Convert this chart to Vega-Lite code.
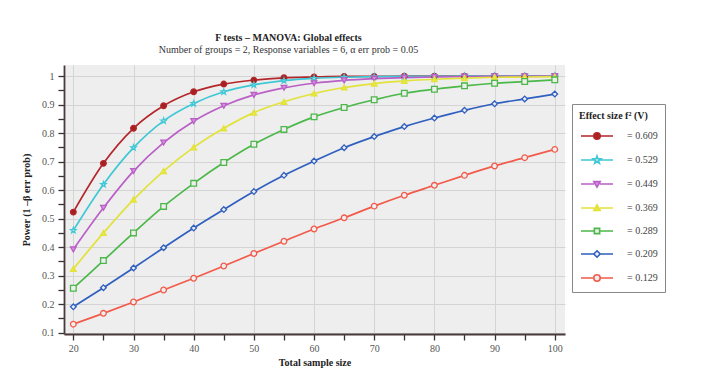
{
  "$schema": "https://vega.github.io/schema/vega-lite/v6.json",
  "width": 501,
  "height": 269,
  "autosize": {"type": "none"},
  "padding": {"left": 64, "top": 65, "right": 160, "bottom": 42},
  "background": "white",
  "config": {
    "font": "Liberation Serif",
    "view": {"fill": "#eeeeee", "stroke": null},
    "legend": {
      "padding": 7,
      "strokeColor": "#888888",
      "fillColor": "white",
      "symbolSize": 256,
      "symbolStrokeWidth": 1.6,
      "symbolOffset": 9,
      "labelOffset": 21,
      "rowPadding": 8,
      "titlePadding": 6,
      "titleFont": "Liberation Serif",
      "titleFontSize": 10,
      "titleFontWeight": "bold",
      "titleColor": "#222222",
      "labelFont": "Liberation Serif",
      "labelFontSize": 10,
      "labelColor": "#444444"
    }
  },
  "title": {
    "text": "F tests – MANOVA: Global effects",
    "subtitle": "Number of groups = 2, Response variables = 6, α err prob = 0.05",
    "font": "Liberation Serif",
    "subtitleFont": "Liberation Serif",
    "fontSize": 10,
    "subtitleFontSize": 10,
    "fontWeight": "bold",
    "color": "#222222",
    "subtitleColor": "#333333",
    "anchor": "middle",
    "dx": -26,
    "offset": 10,
    "subtitlePadding": 2
  },
  "data": {"values": [
    {"n":20,"es":"0.609","p":0.523},{"n":25,"es":"0.609","p":0.694},{"n":30,"es":"0.609","p":0.817},{"n":35,"es":"0.609","p":0.896},{"n":40,"es":"0.609","p":0.945},{"n":45,"es":"0.609","p":0.972},{"n":50,"es":"0.609","p":0.986},{"n":55,"es":"0.609","p":0.994},{"n":60,"es":"0.609","p":0.997},{"n":65,"es":"0.609","p":0.999},{"n":70,"es":"0.609","p":0.999},{"n":75,"es":"0.609","p":1.0},{"n":80,"es":"0.609","p":1.0},{"n":85,"es":"0.609","p":1.0},{"n":90,"es":"0.609","p":1.0},{"n":95,"es":"0.609","p":1.0},{"n":100,"es":"0.609","p":1.0},
    {"n":20,"es":"0.529","p":0.459},{"n":25,"es":"0.529","p":0.62},{"n":30,"es":"0.529","p":0.749},{"n":35,"es":"0.529","p":0.843},{"n":40,"es":"0.529","p":0.904},{"n":45,"es":"0.529","p":0.945},{"n":50,"es":"0.529","p":0.969},{"n":55,"es":"0.529","p":0.984},{"n":60,"es":"0.529","p":0.992},{"n":65,"es":"0.529","p":0.996},{"n":70,"es":"0.529","p":0.998},{"n":75,"es":"0.529","p":0.999},{"n":80,"es":"0.529","p":0.999},{"n":85,"es":"0.529","p":1.0},{"n":90,"es":"0.529","p":1.0},{"n":95,"es":"0.529","p":1.0},{"n":100,"es":"0.529","p":1.0},
    {"n":20,"es":"0.449","p":0.392},{"n":25,"es":"0.449","p":0.538},{"n":30,"es":"0.449","p":0.667},{"n":35,"es":"0.449","p":0.767},{"n":40,"es":"0.449","p":0.842},{"n":45,"es":"0.449","p":0.896},{"n":50,"es":"0.449","p":0.934},{"n":55,"es":"0.449","p":0.959},{"n":60,"es":"0.449","p":0.975},{"n":65,"es":"0.449","p":0.985},{"n":70,"es":"0.449","p":0.991},{"n":75,"es":"0.449","p":0.995},{"n":80,"es":"0.449","p":0.997},{"n":85,"es":"0.449","p":0.998},{"n":90,"es":"0.449","p":0.999},{"n":95,"es":"0.449","p":0.999},{"n":100,"es":"0.449","p":1.0},
    {"n":20,"es":"0.369","p":0.324},{"n":25,"es":"0.369","p":0.45},{"n":30,"es":"0.369","p":0.567},{"n":35,"es":"0.369","p":0.667},{"n":40,"es":"0.369","p":0.75},{"n":45,"es":"0.369","p":0.817},{"n":50,"es":"0.369","p":0.872},{"n":55,"es":"0.369","p":0.91},{"n":60,"es":"0.369","p":0.939},{"n":65,"es":"0.369","p":0.96},{"n":70,"es":"0.369","p":0.974},{"n":75,"es":"0.369","p":0.983},{"n":80,"es":"0.369","p":0.989},{"n":85,"es":"0.369","p":0.993},{"n":90,"es":"0.369","p":0.996},{"n":95,"es":"0.369","p":0.997},{"n":100,"es":"0.369","p":0.998},
    {"n":20,"es":"0.289","p":0.256},{"n":25,"es":"0.289","p":0.353},{"n":30,"es":"0.289","p":0.45},{"n":35,"es":"0.289","p":0.543},{"n":40,"es":"0.289","p":0.624},{"n":45,"es":"0.289","p":0.697},{"n":50,"es":"0.289","p":0.761},{"n":55,"es":"0.289","p":0.813},{"n":60,"es":"0.289","p":0.857},{"n":65,"es":"0.289","p":0.89},{"n":70,"es":"0.289","p":0.917},{"n":75,"es":"0.289","p":0.94},{"n":80,"es":"0.289","p":0.954},{"n":85,"es":"0.289","p":0.966},{"n":90,"es":"0.289","p":0.975},{"n":95,"es":"0.289","p":0.981},{"n":100,"es":"0.289","p":0.987},
    {"n":20,"es":"0.209","p":0.191},{"n":25,"es":"0.209","p":0.258},{"n":30,"es":"0.209","p":0.327},{"n":35,"es":"0.209","p":0.398},{"n":40,"es":"0.209","p":0.467},{"n":45,"es":"0.209","p":0.532},{"n":50,"es":"0.209","p":0.595},{"n":55,"es":"0.209","p":0.652},{"n":60,"es":"0.209","p":0.702},{"n":65,"es":"0.209","p":0.749},{"n":70,"es":"0.209","p":0.788},{"n":75,"es":"0.209","p":0.823},{"n":80,"es":"0.209","p":0.853},{"n":85,"es":"0.209","p":0.88},{"n":90,"es":"0.209","p":0.903},{"n":95,"es":"0.209","p":0.92},{"n":100,"es":"0.209","p":0.937},
    {"n":20,"es":"0.129","p":0.13},{"n":25,"es":"0.129","p":0.168},{"n":30,"es":"0.129","p":0.208},{"n":35,"es":"0.129","p":0.25},{"n":40,"es":"0.129","p":0.291},{"n":45,"es":"0.129","p":0.334},{"n":50,"es":"0.129","p":0.378},{"n":55,"es":"0.129","p":0.421},{"n":60,"es":"0.129","p":0.464},{"n":65,"es":"0.129","p":0.503},{"n":70,"es":"0.129","p":0.544},{"n":75,"es":"0.129","p":0.582},{"n":80,"es":"0.129","p":0.617},{"n":85,"es":"0.129","p":0.652},{"n":90,"es":"0.129","p":0.685},{"n":95,"es":"0.129","p":0.714},{"n":100,"es":"0.129","p":0.743}
  ]},
  "encoding": {
    "x": {
      "field": "n", "type": "quantitative",
      "scale": {"domain": [18.45, 101.7], "nice": false, "zero": false},
      "axis": {
        "title": "Total sample size",
        "values": [20,25,30,35,40,45,50,55,60,65,70,75,80,85,90,95,100],
        "labelExpr": "datum.value % 10 == 0 ? datum.label : ''",
        "grid": true,
        "gridColor": "#d4d4d4",
        "gridOpacity": {"condition": {"test": "datum.value % 10 != 0", "value": 0}, "value": 1},
        "domainColor": "#4a3a3a", "domainWidth": 1.8,
        "tickColor": "#3a3030", "tickWidth": 1.3, "tickSize": 6,
        "labelFont": "Liberation Serif", "labelFontSize": 10, "labelColor": "#555555", "labelPadding": 3,
        "titleFont": "Liberation Serif", "titleFontSize": 10, "titleFontWeight": "bold", "titleColor": "#222222", "titlePadding": 4
      }
    },
    "y": {
      "field": "p", "type": "quantitative",
      "scale": {"domain": [0.0955, 1.039], "nice": false, "zero": false},
      "axis": {
        "title": "Power (1 –β err prob)",
        "values": [0.1,0.15,0.2,0.25,0.3,0.35,0.4,0.45,0.5,0.55,0.6,0.65,0.7,0.75,0.8,0.85,0.9,0.95,1.0],
        "format": ".2~f",
        "labelExpr": "abs(datum.value*10 - round(datum.value*10)) < 0.01 ? datum.label : ''",
        "grid": true,
        "gridColor": "#d4d4d4",
        "gridOpacity": {"condition": {"test": "abs(datum.value*10 - round(datum.value*10)) > 0.01", "value": 0}, "value": 1},
        "domainColor": "#4a3a3a", "domainWidth": 1.8,
        "tickColor": "#3a3030", "tickWidth": 1.3, "tickSize": 6,
        "labelFont": "Liberation Serif", "labelFontSize": 10, "labelColor": "#555555", "labelPadding": 4,
        "titleFont": "Liberation Serif", "titleFontSize": 10, "titleFontWeight": "bold", "titleColor": "#222222", "titlePadding": 10
      }
    }
  },
  "layer": [
    {
      "mark": {"type": "line", "strokeWidth": 1.7, "interpolate": "monotone"},
      "encoding": {
        "stroke": {
          "field": "es", "type": "nominal", "legend": null,
          "scale": {"domain": ["0.609","0.529","0.449","0.369","0.289","0.209","0.129"],
                    "range": ["#b3262a","#3ec8d6","#b95fc6","#e2e23c","#4cb84a","#2f5fbf","#f25a4a"]}
        }
      }
    },
    {
      "mark": {"type": "point", "filled": true, "strokeWidth": 1.3, "size": 32, "opacity": 1},
      "encoding": {
        "stroke": {
          "field": "es", "type": "nominal", "legend": null,
          "scale": {"domain": ["0.609","0.529","0.449","0.369","0.289","0.209","0.129"],
                    "range": ["#b3262a","#3ec8d6","#b95fc6","#e2e23c","#4cb84a","#2f5fbf","#f25a4a"]}
        },
        "fill": {
          "field": "es", "type": "nominal", "legend": null,
          "scale": {"domain": ["0.609","0.529","0.449","0.369","0.289","0.209","0.129"],
                    "range": ["#a52020","#eeeeee","#d68ee0","#e8e840","#eeeeee","#eeeeee","#eeeeee"]}
        },
        "shape": {
          "field": "es", "type": "nominal", "legend": null,
          "scale": {"domain": ["0.609","0.529","0.449","0.369","0.289","0.209","0.129"],
                    "range": ["circle",
                              "M0,-1L0.235,-0.324L0.951,-0.309L0.38,0.124L0.588,0.809L0,0.4L-0.588,0.809L-0.38,0.124L-0.951,-0.309L-0.235,-0.324Z",
                              "triangle-down","triangle-up","square","diamond","circle"]}
        }
      }
    },
    {
      "mark": {"type": "point", "filled": true, "strokeWidth": 1.6, "opacity": 0},
      "encoding": {
        "stroke": {
          "field": "es", "type": "nominal",
          "legend": {"title": "Effect size f² (V)", "orient": "none", "legendX": 508, "legendY": 39,
                     "labelExpr": "'= ' + datum.label",
                     "encode": {"symbols": {"update": {"opacity": {"value": 1}}}}},
          "scale": {"domain": ["0.609","0.529","0.449","0.369","0.289","0.209","0.129"],
                    "range": ["#b3262a","#3ec8d6","#b95fc6","#e2e23c","#4cb84a","#2f5fbf","#f25a4a"]}
        },
        "fill": {
          "field": "es", "type": "nominal",
          "legend": {"title": "Effect size f² (V)", "orient": "none", "legendX": 508, "legendY": 39,
                     "labelExpr": "'= ' + datum.label",
                     "encode": {"symbols": {"update": {"opacity": {"value": 1}}}}},
          "scale": {"domain": ["0.609","0.529","0.449","0.369","0.289","0.209","0.129"],
                    "range": ["#a52020","#eeeeee","#d68ee0","#e8e840","#eeeeee","#eeeeee","#eeeeee"]}
        },
        "shape": {
          "field": "es", "type": "nominal",
          "legend": {"title": "Effect size f² (V)", "orient": "none", "legendX": 508, "legendY": 39,
                     "labelExpr": "'= ' + datum.label",
                     "encode": {"symbols": {"update": {"opacity": {"value": 1}}}}},
          "scale": {"domain": ["0.609","0.529","0.449","0.369","0.289","0.209","0.129"],
                    "range": [
                      "M-2,0H2M0.4,0A0.4,0.4,0,1,1,-0.4,0A0.4,0.4,0,1,1,0.4,0Z",
                      "M-2,0H-0.3M0.3,0H2M0,-0.5L0.118,-0.162L0.476,-0.155L0.19,0.062L0.294,0.405L0,0.2L-0.294,0.405L-0.19,0.062L-0.476,-0.155L-0.118,-0.162Z",
                      "M-2,0H-0.35M0.35,0H2M-0.4,-0.3L0.4,-0.3L0,0.4Z",
                      "M-2,0H-0.35M0.35,0H2M-0.4,0.3L0.4,0.3L0,-0.4Z",
                      "M-2,0H-0.33M0.33,0H2M-0.33,-0.33H0.33V0.33H-0.33Z",
                      "M-2,0H-0.4M0.4,0H2M0,-0.4L0.4,0L0,0.4L-0.4,0Z",
                      "M-2,0H-0.4M0.4,0H2M0.4,0A0.4,0.4,0,1,1,-0.4,0A0.4,0.4,0,1,1,0.4,0Z"
                    ]}
        }
      }
    }
  ],
  "resolve": {"scale": {"stroke": "independent", "fill": "independent", "shape": "independent"}}
}
